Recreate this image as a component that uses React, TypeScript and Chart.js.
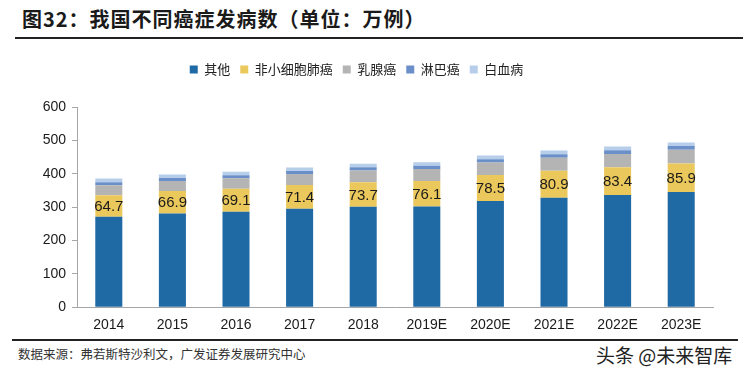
import React, { useEffect, useRef } from "react";
import { Chart, registerables } from "chart.js";

Chart.register(...registerables);

const categories = ["2014", "2015", "2016", "2017", "2018", "2019E", "2020E", "2021E", "2022E", "2023E"];
const otherValues = [271, 281, 286, 295, 301, 302, 318, 328, 336, 345];
const nsclcValues = [64.7, 66.9, 69.1, 71.4, 73.7, 76.1, 78.5, 80.9, 83.4, 85.9];
const breastValues = [30, 30, 31, 33, 35, 36, 37, 39, 40, 41];
const lymphomaValues = [9, 9, 9, 9, 9.5, 10, 10, 10.5, 11, 11];
const leukemiaValues = [11, 10.5, 10.5, 10.5, 10.5, 10.5, 11, 11, 11, 11];
const yTicks = [0, 100, 200, 300, 400, 500, 600];

const seriesNames = ["其他", "非小细胞肺癌", "乳腺癌", "淋巴癌", "白血病"];
const seriesColors = ["#1F69A4", "#EBC85C", "#B4B4B4", "#6B8FC9", "#B7CEEA"];

const labelPlugin = {
  id: "segLabels",
  afterDatasetsDraw(chart: any) {
    const ctx = chart.ctx;
    const meta = chart.getDatasetMeta(1);
    ctx.save();
    ctx.font = "15px 'Liberation Sans', Arial, sans-serif";
    ctx.fillStyle = "#1a1a1a";
    ctx.textAlign = "center";
    ctx.textBaseline = "middle";
    meta.data.forEach((el: any, i: number) => {
      const y = (el.y + el.base) / 2;
      ctx.fillText(String(nsclcValues[i]), el.x, y + 1);
    });
    ctx.restore();
  },
};

const legendSpacer = {
  id: "legendSpacer",
  beforeInit(chart: any) {
    const orig = chart.legend.fit;
    chart.legend.fit = function () {
      orig.call(this);
      this.height += 21;
    };
  },
};

export default function App() {
  const ref = useRef<HTMLCanvasElement | null>(null);
  useEffect(() => {
    if (!ref.current) return;
    const data = [otherValues, nsclcValues, breastValues, lymphomaValues, leukemiaValues];
    const chart = new Chart(ref.current, {
      type: "bar",
      data: {
        labels: categories,
        datasets: data.map((d, i) => ({
          label: seriesNames[i],
          data: d,
          backgroundColor: seriesColors[i],
          borderWidth: 0,
          barPercentage: 0.425,
          categoryPercentage: 1,
        })),
      },
      options: {
        animation: false,
        responsive: false,
        layout: { padding: { top: 8, right: 35, bottom: 1, left: 0 } },
        plugins: {
          tooltip: { enabled: false },
          legend: {
            position: "top",
            labels: {
              boxWidth: 8,
              boxHeight: 8,
              padding: 10,
              color: "#222",
              font: { family: "'Noto Sans CJK SC', sans-serif", size: 13 },
            },
          },
        },
        scales: {
          x: {
            stacked: true,
            grid: { display: false, drawTicks: false },
            border: { display: true, color: "#A6A6A6", width: 1 },
            ticks: {
              color: "#1a1a1a",
              padding: 10,
              font: { family: "'Liberation Sans', Arial, sans-serif", size: 14 },
            },
          },
          y: {
            stacked: true,
            min: 0,
            max: 600,
            afterFit(scale: any) {
              scale.width = 77;
            },
            afterBuildTicks(scale: any) {
              scale.ticks = yTicks.map((v) => ({ value: v }));
            },
            grid: {
              display: true,
              drawOnChartArea: false,
              drawTicks: true,
              tickLength: 5,
              color: "#A6A6A6",
            },
            border: { display: true, color: "#A6A6A6", width: 1 },
            ticks: {
              color: "#1a1a1a",
              padding: 6,
              font: { family: "'Liberation Sans', Arial, sans-serif", size: 14 },
            },
          },
        },
      },
      plugins: [labelPlugin, legendSpacer],
    });
    return () => chart.destroy();
  }, []);

  const cjk = "'Noto Sans CJK SC', sans-serif";
  return (
    <div style={{ position: "absolute", left: 0, top: 0, width: 748, height: 380, background: "#fff", overflow: "hidden" }}>
      <div style={{ position: "absolute", left: 22, top: 6, fontFamily: cjk, fontSize: 20, fontWeight: 700, lineHeight: "26px", color: "#1a1a1a", letterSpacing: 1, whiteSpace: "nowrap" }}>
        图32：我国不同癌症发病数（单位：万例）
      </div>
      <div style={{ position: "absolute", left: 15, top: 37, width: 728, height: 1.5, background: "#222" }} />
      <div style={{ position: "absolute", left: 12, top: 339, width: 726, height: 1.5, background: "#222" }} />
      <div style={{ position: "absolute", left: 18, top: 345, fontFamily: cjk, fontSize: 12.5, lineHeight: "18px", color: "#333", whiteSpace: "nowrap" }}>
        数据来源：弗若斯特沙利文，广发证券发展研究中心
      </div>
      <div style={{ position: "absolute", left: 596, top: 343, fontFamily: cjk, fontSize: 19, lineHeight: "24px", color: "#222", whiteSpace: "nowrap" }}>
        头条 @未来智库
      </div>
      <canvas ref={ref} width={748} height={300} style={{ position: "absolute", left: 0, top: 45, width: 748, height: 300 }} />
    </div>
  );
}
